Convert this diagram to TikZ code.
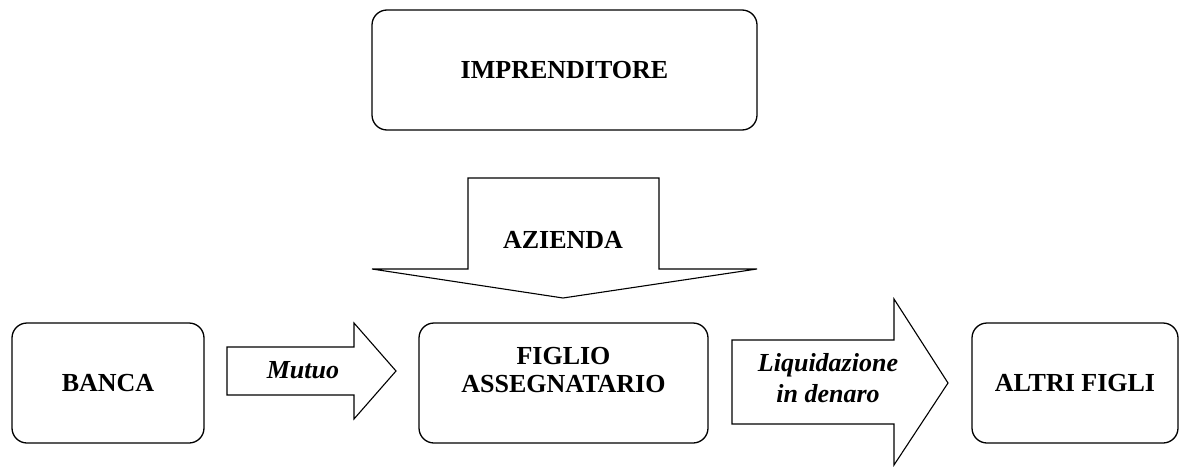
\documentclass[tikz,border=0pt]{standalone}
\usepackage{fontspec}
\setmainfont{Liberation Serif}
\tikzset{
  box/.style={
    draw, line width=1.3pt, rounded corners=15pt, inner sep=0pt,
    align=center, font=\bfseries\fontsize{26}{28}\selectfont
  },
  blockarrow/.style={draw, line width=1.1pt, line join=miter},
  arrowtext/.style={
    align=center, font=\bfseries\itshape\fontsize{26}{31}\selectfont
  }
}

\begin{document}
\begin{tikzpicture}[x=1pt, y=-1pt]
    \useasboundingbox (0,0) rectangle (1180,466);

    % boxes
    \node[box, minimum width=385pt, minimum height=120pt] (impr) at (564.5,70) {IMPRENDITORE};
    \node[box, minimum width=192pt, minimum height=120pt] (banca) at (108,383) {BANCA};
    \node[box, minimum width=289pt, minimum height=120pt] (figlio) at (563.5,383) {};
    \node[box, draw=none] (figliotext) at (563.5,370) {FIGLIO\\ASSEGNATARIO};
    \node[box, minimum width=206pt, minimum height=120pt] (altri) at (1075,383) {ALTRI FIGLI};

    % block arrows
    \draw[blockarrow] (468,178) -- (659,178) -- (659,269) -- (757,269) -- (563,298)
        -- (372,269) -- (468,269) -- cycle;
    \node[box, draw=none] (azienda) at (563,240) {AZIENDA};

    \draw[blockarrow] (227,347) -- (354,347) -- (354,323) -- (396,371) -- (354,419)
        -- (354,395) -- (227,395) -- cycle;
    \node[arrowtext] (mutuo) at (303,370) {Mutuo};

    \draw[blockarrow] (732,340) -- (894,340) -- (894,299) -- (948,383) -- (894,465)
        -- (894,424) -- (732,424) -- cycle;
    \node[arrowtext] (liquid) at (828,378) {Liquidazione\\in denaro};
\end{tikzpicture}
\end{document}
